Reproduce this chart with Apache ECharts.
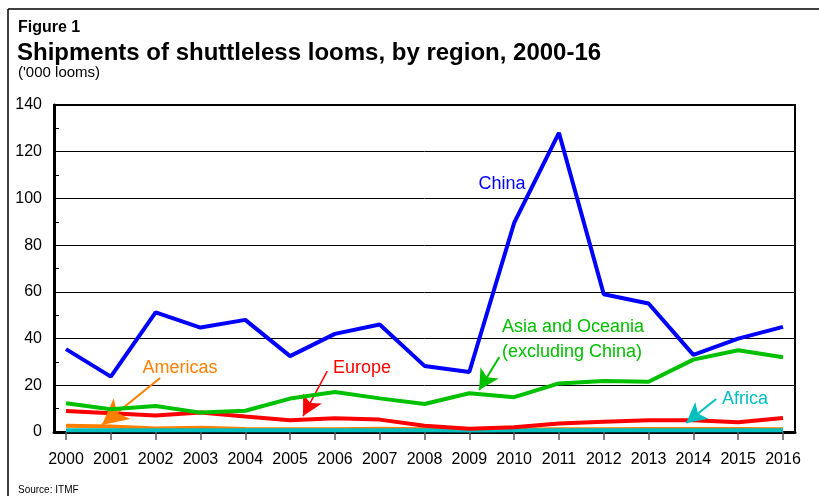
<!DOCTYPE html>
<html>
<head>
<meta charset="utf-8">
<script src="https://cdn.jsdelivr.net/npm/echarts@6/dist/echarts.min.js"></script>
<style>html,body{margin:0;padding:0;background:#fff;}#c{width:819px;height:496px;}</style>
</head>
<body>
<div id="c"></div>
<script>
const years = [2000,2001,2002,2003,2004,2005,2006,2007,2008,2009,2010,2011,2012,2013,2014,2015,2016];
const china    = [35.5,23.7,51.2,44.7,48.0,32.5,42.0,46.0,28.3,25.7,89.5,128.1,59.0,55.0,33.0,40.0,45.0];
const asia     = [12.3,9.7,11.1,8.3,9.1,14.3,17.1,14.4,12.0,16.6,14.9,20.8,21.8,21.5,31.0,35.0,32.0];
const europe   = [9.0,8.0,7.1,8.3,6.6,5.0,5.9,5.3,2.7,1.4,2.0,3.6,4.4,5.0,5.0,4.2,6.0];
const americas = [2.7,2.4,1.5,1.8,1.3,1.2,1.2,1.4,1.2,0.9,1.0,1.2,1.2,1.3,1.3,1.3,1.2];
const africa   = [0.8,0.8,0.7,0.7,0.7,0.7,0.7,0.7,0.7,0.6,0.7,0.7,0.8,0.8,0.8,0.8,0.8];
const yTicks = [0,20,40,60,80,100,120,140];

const FONT = '"Liberation Sans", Arial, sans-serif';
const pairs = arr => years.map((y,i)=>[y,arr[i]]);

function arrowLine(from, to, color, w, size){
  return {
    silent:true, animation:false,
    symbol:['none','arrow'], symbolSize:size,
    label:{show:false},
    lineStyle:{color:color,width:w,type:'solid'},
    emphasis:{disabled:true},
    data:[[{coord:from},{coord:to}]]
  };
}

const chart = echarts.init(document.getElementById('c'), null, {renderer:'canvas'});
chart.setOption({
  animation:false,
  backgroundColor:'#fff',
  grid:[
    {left:54,right:24,top:105,bottom:64,show:true,borderColor:'#000',borderWidth:2,backgroundColor:'transparent'},
    {left:66,right:36,top:105,bottom:64}
  ],
  xAxis:[
    {gridIndex:0,type:'value',min:0,max:1,axisLine:{show:true,onZero:false,lineStyle:{color:'#000',width:3}},axisTick:{show:false},axisLabel:{show:false},splitLine:{show:false}},
    {gridIndex:1,type:'value',min:2000,max:2016,interval:1,
     axisLine:{show:false},
     axisTick:{show:true,length:8,lineStyle:{color:'#555',width:1.5}},
     axisLabel:{fontFamily:FONT,fontSize:16,color:'#000',margin:20,formatter:v=>String(v)},
     splitLine:{show:false}}
  ],
  yAxis:[
    {gridIndex:0,type:'value',min:0,max:140,interval:20,
     axisLine:{show:true,lineStyle:{color:'#000',width:3}},
     axisTick:{show:true,inside:true,length:5,lineStyle:{color:'#000',width:1}},
     minorTick:{show:true,splitNumber:2,length:5,lineStyle:{color:'#000',width:1}},
     axisLabel:{fontFamily:FONT,fontSize:16,color:'#000',margin:12,customValues:yTicks},
     splitLine:{show:true,lineStyle:{color:'#000',width:1}}},
    {gridIndex:1,type:'value',min:0,max:140,show:false}
  ],
  graphic:[
    {type:'line',shape:{x1:8,y1:9,x2:819,y2:9},style:{stroke:'#000',lineWidth:1.5},silent:true},
    {type:'line',shape:{x1:8,y1:9,x2:8,y2:496},style:{stroke:'#000',lineWidth:1.5},silent:true},
    {type:'text',x:18,y:27.5,style:{text:'Figure 1',font:'bold 16px '+FONT,fill:'#000',verticalAlign:'middle'}},
    {type:'text',x:17,y:53.5,style:{text:'Shipments of shuttleless looms, by region, 2000-16',font:'bold 24px '+FONT,fill:'#000',verticalAlign:'middle'}},
    {type:'text',x:18,y:73,style:{text:"('000 looms)",font:'15px '+FONT,fill:'#000',verticalAlign:'middle'}},
    {type:'text',x:18,y:490.5,style:{text:'Source: ITMF',font:'10px '+FONT,fill:'#000',verticalAlign:'middle'}},
    {type:'text',x:502,y:184,style:{text:'China',font:'18px '+FONT,fill:'#0000FF',align:'center',verticalAlign:'middle'}},
    {type:'text',x:502,y:327,style:{text:'Asia and Oceania',font:'18px '+FONT,fill:'#00C000',align:'left',verticalAlign:'middle'}},
    {type:'text',x:502,y:352,style:{text:'(excluding China)',font:'18px '+FONT,fill:'#00C000',align:'left',verticalAlign:'middle'}},
    {type:'text',x:362,y:368,style:{text:'Europe',font:'18px '+FONT,fill:'#FF0000',align:'center',verticalAlign:'middle'}},
    {type:'text',x:180,y:368,style:{text:'Americas',font:'18px '+FONT,fill:'#FF8000',align:'center',verticalAlign:'middle'}},
    {type:'text',x:745,y:399,style:{text:'Africa',font:'18px '+FONT,fill:'#00BFBF',align:'center',verticalAlign:'middle'}}
  ],
  series:[
    {name:'Americas',type:'line',xAxisIndex:1,yAxisIndex:1,data:pairs(americas),showSymbol:false,lineStyle:{color:'#FF8000',width:4},itemStyle:{color:'#FF8000'},z:2,
     markLine:arrowLine([2002.1,23.1],[2000.8,3.0],'#FF8000',2,[20,26])},
    {name:'Africa',type:'line',xAxisIndex:1,yAxisIndex:1,data:pairs(africa),showSymbol:false,lineStyle:{color:'#00BFBF',width:4},itemStyle:{color:'#00BFBF'},z:3,
     markLine:arrowLine([2014.51,14.1],[2013.84,3.9],'#00BFBF',2,[16,20])},
    {name:'Europe',type:'line',xAxisIndex:1,yAxisIndex:1,data:pairs(europe),showSymbol:false,lineStyle:{color:'#FF0000',width:4},itemStyle:{color:'#FF0000'},z:4,
     markLine:arrowLine([2005.83,26.1],[2005.29,6.8],'#FF0000',1.5,[16,20])},
    {name:'Asia and Oceania',type:'line',xAxisIndex:1,yAxisIndex:1,data:pairs(asia),showSymbol:false,lineStyle:{color:'#00C000',width:4},itemStyle:{color:'#00C000'},z:5,
     markLine:arrowLine([2009.67,32.1],[2009.22,18.0],'#00C000',2,[16,20])},
    {name:'China',type:'line',xAxisIndex:1,yAxisIndex:1,data:pairs(china),showSymbol:false,lineStyle:{color:'#0000FF',width:4},itemStyle:{color:'#0000FF'},z:6}
  ]
});
</script>
</body>
</html>
